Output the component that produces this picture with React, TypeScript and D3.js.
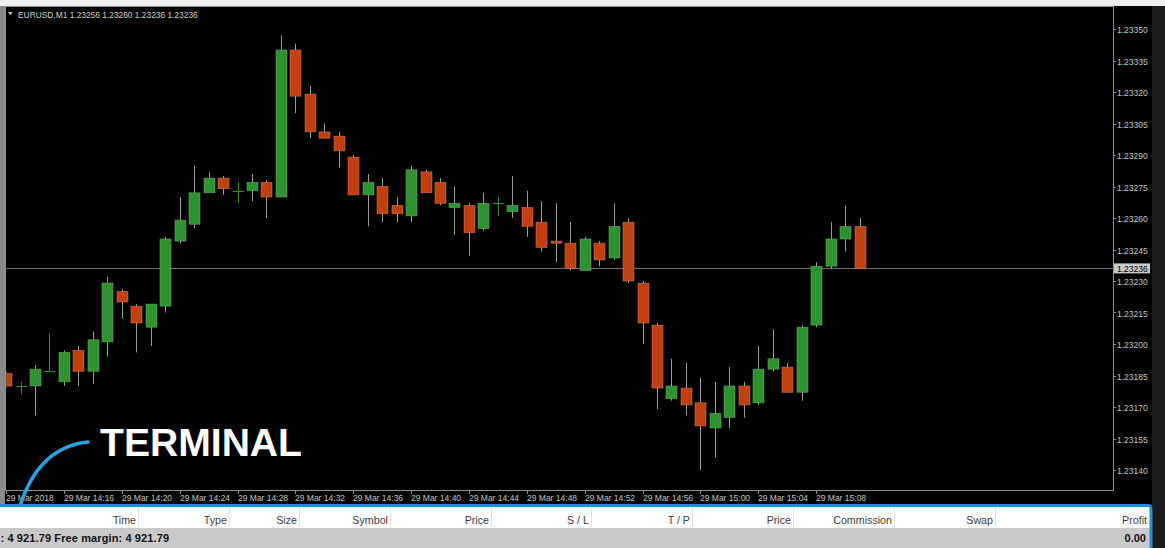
import React from "react";
import * as d3 from "d3";

// ---- data ----
const symbolTitle = "EURUSD,M1";
const lastOHLC = ["1.23256", "1.23260", "1.23236", "1.23236"];
const currentPrice = 1.23236;

const times = [
  "14:12", "14:13", "14:14", "14:15", "14:16", "14:17", "14:18", "14:19", "14:20", "14:21",
  "14:22", "14:23", "14:24", "14:25", "14:26", "14:27", "14:28", "14:29", "14:30", "14:31",
  "14:32", "14:33", "14:34", "14:35", "14:36", "14:37", "14:38", "14:39", "14:40", "14:41",
  "14:42", "14:43", "14:44", "14:45", "14:46", "14:47", "14:48", "14:49", "14:50", "14:51",
  "14:52", "14:53", "14:54", "14:55", "14:56", "14:57", "14:58", "14:59", "15:00", "15:01",
  "15:02", "15:03", "15:04", "15:05", "15:06", "15:07", "15:08", "15:09", "15:10", "15:11",
];

const openP = [
  1.23186, 1.2318, 1.2318, 1.23187, 1.23182, 1.23197, 1.23187, 1.23201, 1.23225, 1.23218,
  1.23208, 1.23218, 1.23249, 1.23257, 1.23272, 1.23279, 1.23273, 1.23273, 1.23277, 1.2327,
  1.2334, 1.23319, 1.23301, 1.23299, 1.23289, 1.23271, 1.23275, 1.23266, 1.23261, 1.23282,
  1.23277, 1.23265, 1.23266, 1.23255, 1.23267, 1.23263, 1.23265, 1.23258, 1.23249, 1.23248,
  1.23235, 1.23248, 1.23241, 1.23258, 1.23229, 1.23209, 1.23174, 1.23179, 1.23172, 1.2316,
  1.23165, 1.2318, 1.23172, 1.23188, 1.23189, 1.23177, 1.23209, 1.23237, 1.2325, 1.23256,
];
const highP = [
  1.23187, 1.23182, 1.2319, 1.23205, 1.23197, 1.23199, 1.23206, 1.23232, 1.23226, 1.23219,
  1.23219, 1.23251, 1.2327, 1.23285, 1.23282, 1.2328, 1.23277, 1.23281, 1.23278, 1.23347,
  1.23343, 1.23323, 1.23305, 1.23301, 1.2329, 1.23281, 1.23279, 1.2327, 1.23285, 1.23283,
  1.23279, 1.23275, 1.23267, 1.23272, 1.2327, 1.2328, 1.23273, 1.23268, 1.23267, 1.23258,
  1.23251, 1.23249, 1.23267, 1.2326, 1.2323, 1.2321, 1.23193, 1.23191, 1.23184, 1.23182,
  1.23189, 1.23182, 1.23199, 1.23207, 1.23191, 1.23209, 1.23239, 1.23258, 1.23266, 1.2326,
];
const lowP = [
  1.23179, 1.23176, 1.23166, 1.23187, 1.2318, 1.2318, 1.23181, 1.23194, 1.23212, 1.23196,
  1.23199, 1.23215, 1.23248, 1.23255, 1.23272, 1.23271, 1.23267, 1.23268, 1.2326, 1.2327,
  1.2331, 1.23298, 1.23298, 1.23284, 1.23271, 1.23256, 1.23258, 1.23258, 1.23258, 1.23272,
  1.23266, 1.23252, 1.23242, 1.23254, 1.23261, 1.2326, 1.23251, 1.23244, 1.23239, 1.23235,
  1.23235, 1.23237, 1.2324, 1.23229, 1.232, 1.23169, 1.23173, 1.23166, 1.2314, 1.23146,
  1.2316, 1.23165, 1.23171, 1.23187, 1.23177, 1.23173, 1.23208, 1.23236, 1.23244, 1.23236,
];
const closeP = [
  1.2318, 1.2318, 1.23188, 1.23187, 1.23196, 1.23187, 1.23202, 1.23229, 1.2322, 1.2321,
  1.23219, 1.2325, 1.23259, 1.23272, 1.23279, 1.23274, 1.23273, 1.23277, 1.2327, 1.2334,
  1.23318, 1.23301, 1.23298, 1.23292, 1.23271, 1.23277, 1.23262, 1.23262, 1.23283, 1.23272,
  1.23267, 1.23267, 1.23253, 1.23267, 1.23267, 1.23266, 1.23256, 1.23246, 1.23248, 1.23236,
  1.2325, 1.2324, 1.23256, 1.2323, 1.2321, 1.23179, 1.2318, 1.23171, 1.23161, 1.23167,
  1.2318, 1.23171, 1.23188, 1.23193, 1.23177, 1.23208, 1.23237, 1.2325, 1.23256, 1.23236,
];

const yTicks = [
  1.2335, 1.23335, 1.2332, 1.23305, 1.2329, 1.23275, 1.2326, 1.23245, 1.2323, 1.23215,
  1.232, 1.23185, 1.2317, 1.23155, 1.2314,
];
const xTickTimes = [
  "14:12", "14:16", "14:20", "14:24", "14:28", "14:32", "14:36", "14:40", "14:44",
  "14:48", "14:52", "14:56", "15:00", "15:04", "15:08",
];
const xTickLabels = [
  "29 Mar 2018", "29 Mar 14:16", "29 Mar 14:20", "29 Mar 14:24", "29 Mar 14:28",
  "29 Mar 14:32", "29 Mar 14:36", "29 Mar 14:40", "29 Mar 14:44", "29 Mar 14:48",
  "29 Mar 14:52", "29 Mar 14:56", "29 Mar 15:00", "29 Mar 15:04", "29 Mar 15:08",
];

const terminalHeaders = ["Time", "Type", "Size", "Symbol", "Price", "S / L", "T / P", "Price", "Commission", "Swap", "Profit"];
const terminalHeaderRight = [136, 227, 297, 388, 489, 589, 690, 791, 892, 993, 1147];
const balanceText = ": 4 921.79  Free margin: 4 921.79";
const profitText = "0.00";

// ---- helpers ----
const parseT = (s: string) => {
  const [h, m] = s.split(":").map(Number);
  return new Date(2018, 2, 29, h, m);
};

const W = 1165;
const H = 548;
const plot = { left: 6, right: 1113, top: 7, bottom: 490 };
const FONT = "'Liberation Sans', Arial, sans-serif";
const UP = "#2e922e";
const DOWN = "#c0410f";
const WICK = "#9c9c9c";
const AXIS_TXT = "#c4c4c4";

export default function App() {
  const candles = times.map((t, i) => ({
    t: parseT(t),
    o: openP[i],
    h: highP[i],
    l: lowP[i],
    c: closeP[i],
  }));

  const x = d3
    .scaleTime()
    .domain([parseT(times[0]), parseT(times[times.length - 1])])
    .range([6.1, 859.5]);
  const y = d3.scaleLinear().domain([1.2314, 1.2335]).range([470, 29]);
  const bw = 11;
  const fmt = d3.format(".5f");

  return (
    <svg
      width={W}
      height={H}
      style={{ position: "absolute", left: 0, top: 0, display: "block" }}
      fontFamily={FONT}
    >
      <defs>
        <clipPath id="plotClip">
          <rect x={plot.left + 0.5} y={plot.top + 0.5} width={plot.right - plot.left - 1} height={plot.bottom - plot.top - 1} />
        </clipPath>
      </defs>
      {/* background */}
      <rect x={0} y={0} width={W} height={H} fill="#000" />
      <rect x={1152} y={0} width={13} height={H} fill="#1b1b1b" />
      <rect x={0} y={0} width={W} height={6} fill="#efefef" />
      <rect x={0} y={6} width={5} height={500} fill="#8a8a8a" />

      {/* plot frame */}
      <rect
        x={plot.left - 0.5}
        y={plot.top - 0.5}
        width={plot.right - plot.left + 1}
        height={plot.bottom - plot.top + 1}
        fill="#000"
        stroke="#8e8e8e"
        strokeWidth={1}
      />

      {/* header */}
      <path d="M8,12 L12.6,12 L10.3,15.2 Z" fill="#c8c8c8" />
      <text x={18} y={17.5} fontSize={8.4} fill="#cfcfcf">
        {symbolTitle + "  " + lastOHLC.join(" ")}
      </text>

      {/* current price line */}
      <line
        x1={plot.left}
        x2={plot.right}
        y1={Math.round(y(currentPrice)) + 0.5}
        y2={Math.round(y(currentPrice)) + 0.5}
        stroke="#6e6e6e"
        strokeWidth={1}
      />

      {/* candles */}
      <g clipPath="url(#plotClip)">
        {candles.map((d, i) => {
          const cx = Math.round(x(d.t)) + 0.5;
          const doji = d.o === d.c;
          const up = d.c > d.o;
          const top = y(Math.max(d.o, d.c));
          const bot = y(Math.min(d.o, d.c));
          if (doji) {
            return (
              <g key={i}>
                <line x1={cx} x2={cx} y1={y(d.h)} y2={y(d.l)} stroke={UP} strokeWidth={1} />
                <line x1={cx - bw / 2} x2={cx + bw / 2} y1={Math.round(top) + 0.5} y2={Math.round(top) + 0.5} stroke={UP} strokeWidth={1} />
              </g>
            );
          }
          return (
            <g key={i}>
              <line x1={cx} x2={cx} y1={y(d.h)} y2={y(d.l)} stroke={WICK} strokeWidth={1} />
              <rect
                x={cx - bw / 2}
                y={top}
                width={bw}
                height={Math.max(1.5, bot - top)}
                fill={up ? UP : DOWN}
                stroke={up ? "#7fb07f" : "#d9896a"}
                strokeOpacity={0.6}
                strokeWidth={0.8}
              />
            </g>
          );
        })}
      </g>

      {/* y axis */}
      {yTicks.map((v) => (
        <g key={v}>
          <line x1={plot.right} x2={plot.right + 3} y1={Math.round(y(v)) + 0.5} y2={Math.round(y(v)) + 0.5} stroke="#8e8e8e" />
          <text x={1117} y={y(v) + 4} fontSize={8.5} fill={AXIS_TXT}>
            {fmt(v)}
          </text>
        </g>
      ))}
      {/* current price label */}
      <rect x={1114} y={y(currentPrice) - 5} width={36} height={10} fill="#c9c9c9" />
      <text x={1117} y={y(currentPrice) + 3.5} fontSize={8.5} fill="#000">
        {fmt(currentPrice)}
      </text>

      {/* x axis */}
      {xTickTimes.map((t, i) => {
        const px = Math.round(x(parseT(t))) + 0.5;
        return (
          <g key={t}>
            <line x1={px} x2={px} y1={plot.bottom} y2={plot.bottom + 4} stroke="#8e8e8e" />
            <text x={px - 0.5} y={500.5} fontSize={8.5} fill={AXIS_TXT}>
              {xTickLabels[i]}
            </text>
          </g>
        );
      })}

      {/* annotation */}
      <path d="M88,442 Q40,447 21,503" fill="none" stroke="#27a3df" strokeWidth={3.6} strokeLinecap="round" />
      <text
        x={100}
        y={456}
        fontSize={38}
        fontWeight="bold"
        fill="#ffffff"
        textLength={202}
        lengthAdjust="spacingAndGlyphs"
      >
        TERMINAL
      </text>

      {/* terminal panel */}
      <rect x={0} y={507} width={1150} height={21} fill="#ffffff" />
      <rect x={0} y={528} width={1150} height={20} fill="#c9c9c9" />
      {terminalHeaders.map((h, i) => (
        <g key={i}>
          <text x={terminalHeaderRight[i]} y={524} fontSize={10.7} fill="#404040" textAnchor="end">
            {h}
          </text>
          {i < terminalHeaders.length - 1 && (
            <line
              x1={terminalHeaderRight[i] + 2.5}
              x2={terminalHeaderRight[i] + 2.5}
              y1={508}
              y2={527}
              stroke="#e2e2e2"
            />
          )}
        </g>
      ))}
      <text x={0.5} y={542} fontSize={11} fontWeight="bold" fill="#111" textLength={168.5} lengthAdjust="spacing">
        {balanceText}
      </text>
      <text x={1146} y={542} fontSize={11} fontWeight="bold" fill="#111" textAnchor="end">
        {profitText}
      </text>
      <rect x={-6} y={505.5} width={1157} height={60} rx={3} fill="none" stroke="#1f8fd8" strokeWidth={3} />
    </svg>
  );
}
